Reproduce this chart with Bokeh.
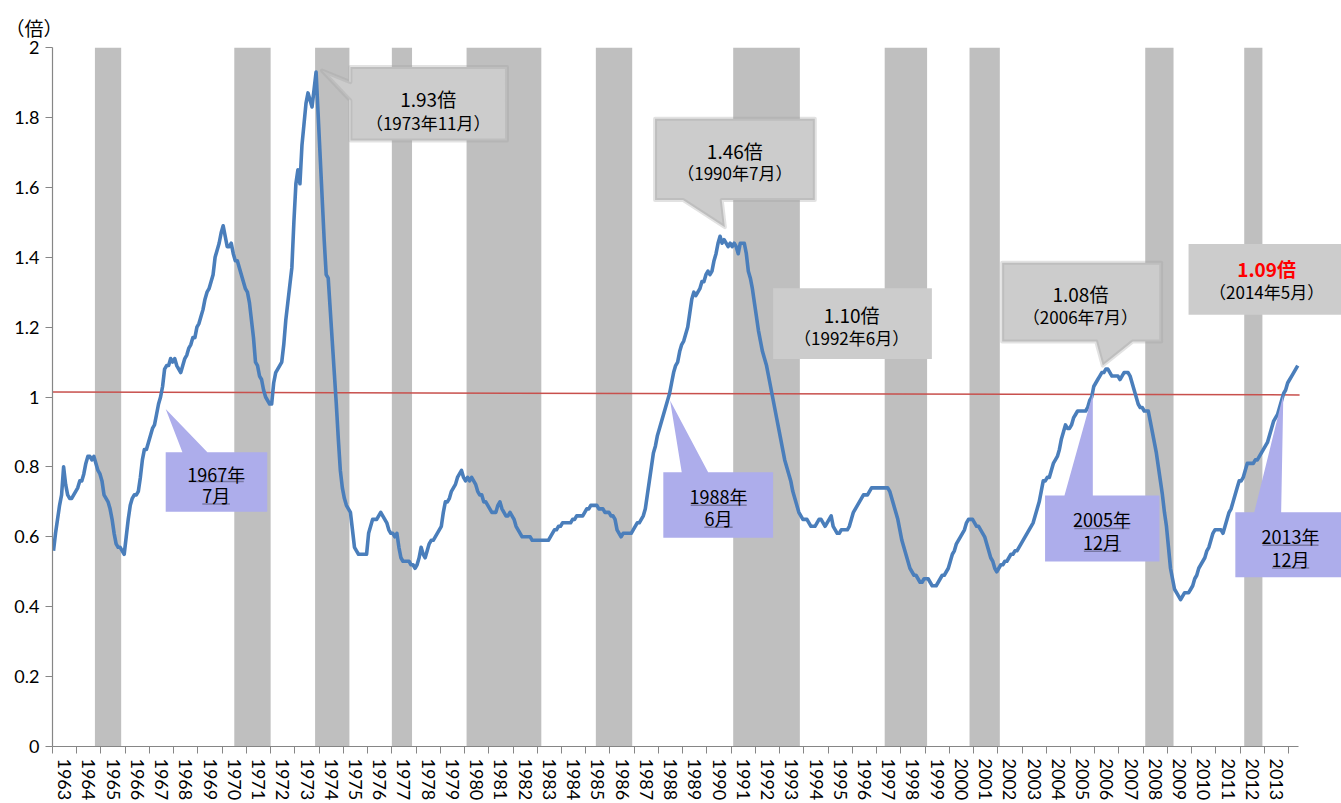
import math
import numpy as np
from bokeh.plotting import figure
from bokeh.models import (Range1d, FixedTicker, LinearAxis, Label, PolyAnnotation)
from bokeh.embed import file_html
from bokeh.resources import INLINE

# ---------------- data (monthly job-offers-to-applicants ratio, 1963/1 - 2014/5) ----------------
start_year = 1963
ratio_1963_1969 = [
    0.56, 0.61, 0.65, 0.69, 0.72, 0.80, 0.75, 0.72, 0.71, 0.71, 0.72, 0.73,  # 1963
    0.74, 0.76, 0.76, 0.78, 0.81, 0.83, 0.83, 0.82, 0.83, 0.81, 0.79, 0.78,  # 1964
    0.76, 0.72, 0.71, 0.70, 0.68, 0.65, 0.61, 0.58, 0.57, 0.57, 0.56, 0.55,  # 1965
    0.60, 0.65, 0.69, 0.71, 0.72, 0.72, 0.73, 0.77, 0.82, 0.85, 0.85, 0.87,  # 1966
    0.89, 0.91, 0.92, 0.95, 0.98, 1.00, 1.03, 1.08, 1.09, 1.09, 1.11, 1.10,  # 1967
    1.11, 1.09, 1.08, 1.07, 1.09, 1.11, 1.12, 1.14, 1.15, 1.17, 1.17, 1.20,  # 1968
    1.21, 1.23, 1.25, 1.28, 1.30, 1.31, 1.33, 1.35, 1.40, 1.42, 1.44, 1.47,  # 1969
]
ratio_1970s = [
    1.49, 1.46, 1.43, 1.43, 1.44, 1.41, 1.39, 1.39, 1.37, 1.35, 1.33, 1.31,  # 1970
    1.30, 1.27, 1.22, 1.17, 1.10, 1.09, 1.06, 1.05, 1.02, 1.00, 0.99, 0.98,  # 1971
    0.98, 1.04, 1.07, 1.08, 1.09, 1.10, 1.15, 1.22, 1.27, 1.32, 1.37, 1.50,  # 1972
    1.61, 1.65, 1.61, 1.72, 1.78, 1.84, 1.87, 1.85, 1.83, 1.88, 1.93, 1.81,  # 1973
    1.69, 1.57, 1.45, 1.35, 1.34, 1.25, 1.16, 1.07, 0.98, 0.88, 0.79, 0.74,  # 1974
    0.71, 0.69, 0.68, 0.67, 0.62, 0.57, 0.56, 0.55, 0.55, 0.55, 0.55, 0.55,  # 1975
    0.61, 0.63, 0.65, 0.65, 0.65, 0.66, 0.67, 0.66, 0.65, 0.64, 0.62, 0.61,  # 1976
    0.61, 0.60, 0.61, 0.57, 0.54, 0.53, 0.53, 0.53, 0.53, 0.52, 0.52, 0.51,  # 1977
    0.52, 0.54, 0.57, 0.55, 0.54, 0.56, 0.58, 0.59, 0.59, 0.60, 0.61, 0.62,  # 1978
    0.63, 0.67, 0.70, 0.70, 0.71, 0.73, 0.74, 0.75, 0.77, 0.78, 0.79, 0.77,  # 1979
]
ratio_1980s = [
    0.76, 0.77, 0.76, 0.77, 0.76, 0.75, 0.73, 0.72, 0.72, 0.70, 0.70, 0.69,  # 1980
    0.68, 0.67, 0.67, 0.67, 0.69, 0.70, 0.68, 0.67, 0.66, 0.66, 0.67, 0.66,  # 1981
    0.65, 0.63, 0.62, 0.61, 0.60, 0.60, 0.60, 0.60, 0.60, 0.59, 0.59, 0.59,  # 1982
    0.59, 0.59, 0.59, 0.59, 0.59, 0.59, 0.60, 0.61, 0.62, 0.62, 0.63, 0.63,  # 1983
    0.64, 0.64, 0.64, 0.64, 0.64, 0.65, 0.65, 0.66, 0.66, 0.66, 0.66, 0.67,  # 1984
    0.68, 0.68, 0.69, 0.69, 0.69, 0.69, 0.68, 0.68, 0.68, 0.67, 0.67, 0.67,  # 1985
    0.66, 0.66, 0.65, 0.62, 0.61, 0.60, 0.61, 0.61, 0.61, 0.61, 0.61, 0.62,  # 1986
    0.63, 0.64, 0.64, 0.65, 0.66, 0.68, 0.72, 0.76, 0.80, 0.84, 0.86, 0.89,  # 1987
    0.91, 0.93, 0.95, 0.97, 0.99, 1.01, 1.04, 1.07, 1.09, 1.10, 1.13, 1.15,  # 1988
    1.16, 1.18, 1.20, 1.24, 1.28, 1.30, 1.29, 1.30, 1.31, 1.33, 1.33, 1.35,  # 1989
]
ratio_1990s = [
    1.36, 1.35, 1.36, 1.39, 1.41, 1.44, 1.46, 1.44, 1.45, 1.44, 1.43, 1.44,  # 1990
    1.43, 1.44, 1.43, 1.41, 1.44, 1.44, 1.44, 1.41, 1.36, 1.34, 1.31, 1.27,  # 1991
    1.23, 1.19, 1.16, 1.13, 1.11, 1.09, 1.06, 1.03, 1.00, 0.97, 0.94, 0.91,  # 1992
    0.88, 0.85, 0.82, 0.80, 0.78, 0.76, 0.73, 0.71, 0.69, 0.67, 0.66, 0.65,  # 1993
    0.65, 0.65, 0.64, 0.63, 0.63, 0.63, 0.64, 0.65, 0.65, 0.64, 0.63, 0.64,  # 1994
    0.65, 0.66, 0.63, 0.62, 0.61, 0.61, 0.62, 0.62, 0.62, 0.62, 0.63, 0.65,  # 1995
    0.67, 0.68, 0.69, 0.70, 0.71, 0.72, 0.72, 0.72, 0.73, 0.74, 0.74, 0.74,  # 1996
    0.74, 0.74, 0.74, 0.74, 0.74, 0.74, 0.73, 0.71, 0.69, 0.67, 0.65, 0.62,  # 1997
    0.59, 0.57, 0.55, 0.53, 0.51, 0.50, 0.49, 0.49, 0.48, 0.47, 0.47, 0.48,  # 1998
    0.48, 0.48, 0.47, 0.46, 0.46, 0.46, 0.47, 0.48, 0.49, 0.49, 0.50, 0.51,  # 1999
]
ratio_2000s = [
    0.53, 0.55, 0.56, 0.58, 0.59, 0.60, 0.61, 0.62, 0.64, 0.65, 0.65, 0.65,  # 2000
    0.64, 0.63, 0.63, 0.62, 0.61, 0.60, 0.58, 0.56, 0.54, 0.53, 0.51, 0.50,  # 2001
    0.51, 0.52, 0.52, 0.53, 0.53, 0.54, 0.55, 0.55, 0.56, 0.56, 0.57, 0.58,  # 2002
    0.59, 0.60, 0.61, 0.62, 0.63, 0.64, 0.66, 0.68, 0.70, 0.73, 0.76, 0.76,  # 2003
    0.77, 0.77, 0.79, 0.81, 0.82, 0.83, 0.85, 0.88, 0.90, 0.92, 0.91, 0.91,  # 2004
    0.92, 0.94, 0.95, 0.96, 0.96, 0.96, 0.96, 0.96, 0.97, 0.99, 1.00, 1.03,  # 2005
    1.04, 1.05, 1.06, 1.07, 1.07, 1.08, 1.08, 1.07, 1.06, 1.06, 1.06, 1.06,  # 2006
    1.05, 1.06, 1.07, 1.07, 1.07, 1.06, 1.04, 1.02, 1.00, 0.98, 0.97, 0.97,  # 2007
    0.96, 0.96, 0.96, 0.93, 0.90, 0.87, 0.84, 0.80, 0.76, 0.72, 0.67, 0.63,  # 2008
    0.57, 0.51, 0.48, 0.45, 0.44, 0.43, 0.42, 0.43, 0.44, 0.44, 0.44, 0.45,  # 2009
]
ratio_2010s = [
    0.46, 0.48, 0.49, 0.51, 0.52, 0.53, 0.54, 0.56, 0.57, 0.59, 0.61, 0.62,  # 2010
    0.62, 0.62, 0.62, 0.61, 0.63, 0.65, 0.67, 0.68, 0.70, 0.72, 0.74, 0.76,  # 2011
    0.76, 0.77, 0.79, 0.81, 0.81, 0.81, 0.81, 0.82, 0.82, 0.83, 0.84, 0.85,  # 2012
    0.86, 0.87, 0.89, 0.91, 0.93, 0.94, 0.95, 0.97, 0.99, 1.01, 1.02, 1.04,  # 2013
    1.05, 1.06, 1.07, 1.08, 1.09,                                            # 2014
]
ratio = ratio_1963_1969 + ratio_1970s + ratio_1980s + ratio_1990s + ratio_2000s + ratio_2010s

# recession periods (peak month, trough month)
recession_start = [(1964, 10), (1970, 7), (1973, 11), (1977, 1), (1980, 2), (1985, 6),
                   (1991, 2), (1997, 5), (2000, 11), (2008, 2), (2012, 3)]
recession_end = [(1965, 10), (1971, 12), (1975, 3), (1977, 10), (1983, 2), (1986, 11),
                 (1993, 10), (1999, 1), (2002, 1), (2009, 3), (2012, 11)]

year_labels = [str(y) for y in range(1963, 2014)]
y_ticks = [0, 0.2, 0.4, 0.6, 0.8, 1, 1.2, 1.4, 1.6, 1.8, 2]
y_tick_labels = ["0", "0.2", "0.4", "0.6", "0.8", "1", "1.2", "1.4", "1.6", "1.8", "2"]

# reference line (around 1.0)
ref_line_x = [1963.0, 2014.45]
ref_line_y = [1.014, 1.006]

# ---------------- figure ----------------
n = len(ratio)
months = np.arange(n)
x_month = start_year + (months + 0.5) / 12.0
x_end = start_year + n / 12.0          # end of the category axis
view_end = 2016.18                     # frame extends to the right edge (callouts overflow)

p = figure(width=1341, height=803, output_backend="svg", toolbar_location=None,
           x_range=Range1d(start_year, view_end), y_range=Range1d(0, 2),
           x_axis_type=None, y_axis_type=None,
           min_border_left=52, min_border_right=0, min_border_top=47, min_border_bottom=0)
p.outline_line_color = None
p.background_fill_color = "white"
p.border_fill_color = "white"

# unit label as a left-aligned title
p.title.text = "（倍）"
p.title.align = "left"
p.title.offset = -47
p.title.text_font = "Noto Sans CJK JP"
p.title.text_font_size = "19px"
p.title.text_font_style = "normal"
p.title.text_color = "#000000"
p.title.standoff = 13

AXIS_GRAY = "#868686"
yaxis = LinearAxis(ticker=FixedTicker(ticks=y_ticks),
                   major_label_overrides={t: l for t, l in zip(y_ticks, y_tick_labels)},
                   axis_line_color=AXIS_GRAY, axis_line_width=1.2,
                   major_tick_line_color=AXIS_GRAY, major_tick_in=0, major_tick_out=7,
                   minor_tick_line_color=None,
                   major_label_text_font="Lato", major_label_text_font_size="18px",
                   major_label_text_color="#000000", major_label_standoff=6)
p.add_layout(yaxis, "left")

year_starts = [start_year + k for k in range(0, int(x_end - start_year) + 1)]
label_pos = [int(s) + 0.5 for s in year_labels]
xaxis = LinearAxis(ticker=FixedTicker(ticks=label_pos, minor_ticks=year_starts),
                   major_label_overrides={t: l for t, l in zip(label_pos, year_labels)},
                   bounds=(start_year, x_end),
                   axis_line_color=AXIS_GRAY, axis_line_width=1.2,
                   major_tick_line_color=None, major_tick_in=0, major_tick_out=7,
                   minor_tick_line_color=AXIS_GRAY, minor_tick_in=0, minor_tick_out=7,
                   major_label_orientation=-math.pi / 2, major_label_standoff=5,
                   major_label_text_font="Lato", major_label_text_font_size="18px",
                   major_label_text_color="#000000")
p.add_layout(xaxis, "below")

# recession bands
band_left = [y + (m - 1) / 12.0 for y, m in recession_start]
band_right = [y + m / 12.0 for y, m in recession_end]
p.quad(left=band_left, right=band_right, bottom=0, top=2,
       fill_color="#BFBFBF", line_color=None)

# reference line and data line
p.line(ref_line_x, ref_line_y, line_color="#C8504D", line_width=1.5)
p.line(x_month, ratio, line_color="#4A7EBB", line_width=3.6, line_join="round")

# ---------------- callouts ----------------
JP = "Noto Sans CJK JP"
GRAY_FILL = "#CCCCCC"
GRAY_LINE = "#A0A0A0"
PURPLE = "#ADADEB"

gray_callouts = [
    dict(xs=[1975.29, 1981.75, 1981.75, 1975.29, 1975.29, 1974.12, 1975.29],
         ys=[1.944, 1.944, 1.734, 1.734, 1.848, 1.934, 1.901], border=True),
    dict(xs=[1987.86, 1994.45, 1994.45, 1990.61, 1990.74, 1989.01, 1987.86],
         ys=[1.796, 1.796, 1.564, 1.564, 1.486, 1.564, 1.564], border=True),
    dict(xs=[1992.73, 1999.28, 1999.28, 1992.73],
         ys=[1.311, 1.311, 1.109, 1.109], border=False),
    dict(xs=[2002.18, 2008.74, 2008.74, 2007.57, 2006.33, 2006.06, 2002.18],
         ys=[1.384, 1.384, 1.159, 1.159, 1.090, 1.159, 1.159], border=True),
    dict(xs=[2009.87, 2016.3, 2016.3, 2009.87],
         ys=[1.438, 1.438, 1.235, 1.235], border=False),
]
for c in gray_callouts:
    p.add_layout(PolyAnnotation(xs=c["xs"], ys=c["ys"], fill_color=GRAY_FILL, fill_alpha=1.0,
                                line_color=GRAY_LINE if c["border"] else None,
                                line_width=4, line_join="round"))

gray_texts = [
    (1978.50, 1.854, 1.786, "1.93倍", "（1973年11月）", "#000000", "normal"),
    (1991.15, 1.705, 1.641, "1.46倍", "（1990年7月）", "#000000", "normal"),
    (1995.97, 1.236, 1.171, "1.10倍", "（1992年6月）", "#000000", "normal"),
    (2005.41, 1.296, 1.230, "1.08倍", "（2006年7月）", "#000000", "normal"),
    (2013.09, 1.368, 1.302, "1.09倍", "（2014年5月）", "#FF0000", "bold"),
]
for x, y1, y2, t1, t2, col, style in gray_texts:
    p.add_layout(Label(x=x, y=y1, text=t1, text_font=JP, text_font_size="19px",
                       text_font_style=style, text_color=col,
                       text_align="center", text_baseline="middle"))
    p.add_layout(Label(x=x, y=y2, text=t2, text_font=JP, text_font_size="17px",
                       text_color="#000000", text_align="center", text_baseline="middle"))

purple_callouts = [
    dict(xs=[1967.67, 1967.67, 1968.36, 1967.67, 1969.39, 1971.86, 1971.86],
         ys=[0.672, 0.842, 0.842, 0.966, 0.842, 0.842, 0.672]),
    dict(xs=[1988.20, 1988.20, 1988.96, 1988.48, 1990.05, 1992.73, 1992.73],
         ys=[0.597, 0.785, 0.785, 0.990, 0.785, 0.785, 0.597]),
    dict(xs=[2003.95, 2003.95, 2004.75, 2005.92, 2005.92, 2008.67, 2008.67],
         ys=[0.529, 0.718, 0.718, 1.009, 0.718, 0.718, 0.529]),
    dict(xs=[2011.80, 2011.80, 2012.58, 2013.78, 2013.69, 2016.3, 2016.3],
         ys=[0.484, 0.670, 0.670, 1.007, 0.670, 0.670, 0.484]),
]
for c in purple_callouts:
    p.add_layout(PolyAnnotation(xs=c["xs"], ys=c["ys"], fill_color=PURPLE, fill_alpha=1.0,
                                line_color=None))

# (x, y line1, y line2, text1, text2, underline1 (x0,x1,y), underline2 (x0,x1,y))
purple_texts = [
    (1969.76, 0.781, 0.720, "1967年", "7月", (1968.63, 1970.89, 0.758), (1969.18, 1970.32, 0.694)),
    (1990.48, 0.716, 0.654, "1988年", "6月", (1989.33, 1991.64, 0.690), (1989.89, 1991.06, 0.627)),
    (2006.30, 0.650, 0.585, "2005年", "12月", (2005.16, 2007.43, 0.624), (2005.55, 2007.09, 0.559)),
    (2014.08, 0.601, 0.537, "2013年", "12月", (2012.92, 2015.23, 0.576), (2013.31, 2014.85, 0.511)),
]
for x, y1, y2, t1, t2, u1, u2 in purple_texts:
    for yy, tt in ((y1, t1), (y2, t2)):
        p.add_layout(Label(x=x, y=yy, text=tt, text_font=JP, text_font_size="18px",
                           text_color="#000000", text_align="center", text_baseline="middle"))
    for x0, x1, yu in (u1, u2):
        p.add_layout(PolyAnnotation(xs=[x0, x1], ys=[yu, yu], fill_alpha=0.0,
                                    line_color="#000000", line_width=1.5))

open("out.html", "w").write(file_html(p, INLINE))
